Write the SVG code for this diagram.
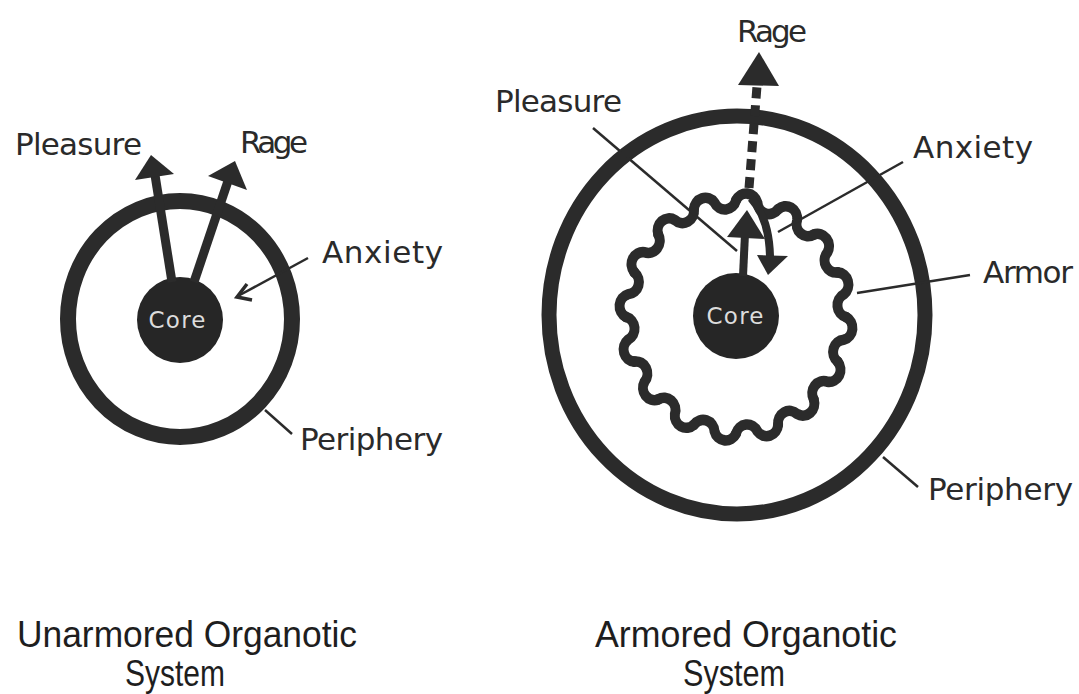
<svg xmlns="http://www.w3.org/2000/svg" xmlns:xlink="http://www.w3.org/1999/xlink" width="1079" height="694" viewBox="0 0 1079 694">
<style>
.ring{fill:none;stroke:#2b2b2b;stroke-width:16}
.core{fill:#262626}
.coretxt{font-family:"DejaVu Sans","Liberation Sans",sans-serif;font-size:23px;fill:#dcdcdc}
.lbl{font-family:"DejaVu Sans","Liberation Sans",sans-serif;font-size:31px;fill:#2a2a2a}
.ttl{font-family:"Liberation Sans",Arial,sans-serif;font-size:37px;fill:#1e1e1e}
.shaft{fill:none;stroke:#2b2b2b;stroke-width:9}
.head{fill:#2b2b2b}
.lead{fill:none;stroke:#2b2b2b;stroke-width:2.5}
.wave{fill:none;stroke:#2b2b2b;stroke-width:10;stroke-linecap:round;stroke-linejoin:round}
</style>
<defs>
<path id="wseg" d="M110,0 A11.5,11.5 0 0 1 107.89,21.46 A11.5,11.5 0 0 0 101.63,42.10"/>
</defs>
<rect width="1079" height="694" fill="#ffffff"/>

<g id="unarmored">
  <ellipse id="periphery-left" class="ring" cx="180" cy="319" rx="112" ry="118"/>
  <g id="core-left">
    <circle class="core" cx="180" cy="320" r="43"/>
    <text class="coretxt" x="177" y="328" text-anchor="middle" textLength="57">Core</text>
  </g>
</g>

<g id="armored">
  <ellipse id="periphery-right" class="ring" cx="737" cy="315" rx="188" ry="199" style="stroke-width:15"/>
  <g id="armor" class="wave" transform="translate(736,317) scale(1,1.06)">
    <use xlink:href="#wseg"/>
    <use xlink:href="#wseg" transform="rotate(22.5)"/>
    <use xlink:href="#wseg" transform="rotate(45)"/>
    <use xlink:href="#wseg" transform="rotate(67.5)"/>
    <use xlink:href="#wseg" transform="rotate(90)"/>
    <use xlink:href="#wseg" transform="rotate(112.5)"/>
    <use xlink:href="#wseg" transform="rotate(135)"/>
    <use xlink:href="#wseg" transform="rotate(157.5)"/>
    <use xlink:href="#wseg" transform="rotate(180)"/>
    <use xlink:href="#wseg" transform="rotate(202.5)"/>
    <use xlink:href="#wseg" transform="rotate(225)"/>
    <use xlink:href="#wseg" transform="rotate(247.5)"/>
    <use xlink:href="#wseg" transform="rotate(270)"/>
    <use xlink:href="#wseg" transform="rotate(292.5)"/>
    <use xlink:href="#wseg" transform="rotate(315)"/>
    <use xlink:href="#wseg" transform="rotate(337.5)"/>
  </g>
  <g id="core-right">
    <circle class="core" cx="736" cy="316" r="43"/>
    <text class="coretxt" x="735" y="324" text-anchor="middle" textLength="57">Core</text>
  </g>
</g>

<g id="connectors">
  <!-- left pleasure -->
  <line class="shaft" x1="172" y1="282" x2="155" y2="175"/>
  <polygon class="head" points="151,155 174,174 135,180"/>
  <!-- left rage -->
  <line class="shaft" x1="194" y1="282" x2="228" y2="181"/>
  <polygon class="head" points="235,161 247,190 208,176"/>
  <!-- left anxiety -->
  <line class="lead" x1="308" y1="258" x2="238" y2="296"/>
  <polyline points="247,284 237,297 252,300" fill="none" stroke="#2b2b2b" stroke-width="3.5" stroke-linejoin="miter"/>
  <!-- left periphery leader -->
  <line class="lead" x1="265" y1="410" x2="292" y2="434"/>

  <!-- right rage dashed -->
  <line x1="749" y1="188" x2="757" y2="86" stroke="#2b2b2b" stroke-width="9" stroke-dasharray="11 7"/>
  <polygon class="head" points="759,52 779,86 738,85"/>
  <!-- right pleasure -->
  <line class="shaft" style="stroke-width:8" x1="743" y1="276" x2="745" y2="234"/>
  <polygon class="head" points="747,210 765,239 727,237"/>
  <line class="lead" x1="593" y1="128" x2="737" y2="251"/>
  <!-- right anxiety curved -->
  <path class="shaft" style="stroke-width:8" d="M751,198 Q769,218 770,256"/>
  <polygon class="head" points="768,275 788,256 757,255"/>
  <line class="lead" x1="903" y1="162" x2="778" y2="232"/>
  <!-- armor leader -->
  <line class="lead" x1="857" y1="293" x2="970" y2="275"/>
  <!-- periphery leader right -->
  <line class="lead" x1="883" y1="457" x2="918" y2="487"/>
</g>

<g id="labels">
  <text class="lbl" x="15" y="155" textLength="127">Pleasure</text>
  <text class="lbl" x="240" y="153" textLength="68">Rage</text>
  <text class="lbl" x="322" y="263" textLength="121">Anxiety</text>
  <text class="lbl" x="300" y="450" textLength="143">Periphery</text>
  <text class="lbl" x="737" y="42" textLength="70">Rage</text>
  <text class="lbl" x="495" y="112" textLength="127">Pleasure</text>
  <text class="lbl" x="913" y="158" textLength="120">Anxiety</text>
  <text class="lbl" x="983" y="283" textLength="90">Armor</text>
  <text class="lbl" x="928" y="500" textLength="145">Periphery</text>
</g>

<g id="titles">
  <text class="ttl" x="17" y="647" textLength="340" lengthAdjust="spacingAndGlyphs">Unarmored Organotic</text>
  <text class="ttl" x="125" y="686" textLength="100" lengthAdjust="spacingAndGlyphs">System</text>
  <text class="ttl" x="595" y="647" textLength="302" lengthAdjust="spacingAndGlyphs">Armored Organotic</text>
  <text class="ttl" x="683" y="686" textLength="102" lengthAdjust="spacingAndGlyphs">System</text>
</g>
</svg>
